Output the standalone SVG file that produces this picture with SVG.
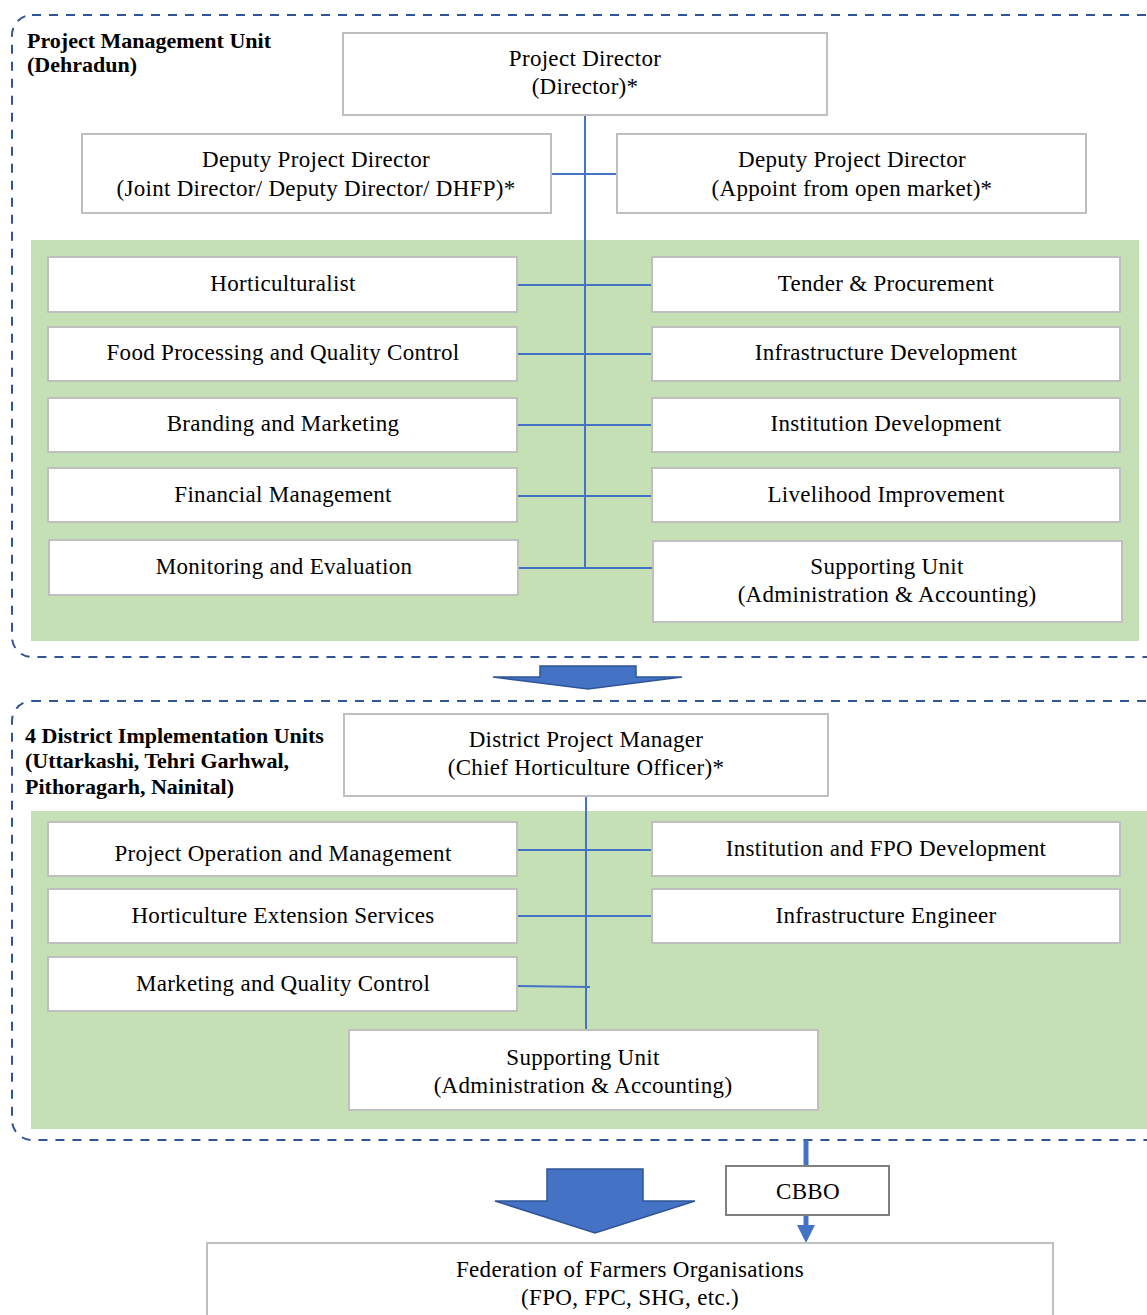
<svg xmlns="http://www.w3.org/2000/svg" width="1147" height="1315" viewBox="0 0 1147 1315">
  <defs>
    <style>
      .frame { fill: none; stroke: #2F5597; stroke-width: 2; stroke-dasharray: 9 8; }
      .band { fill: #C5E0B4; }
      .box { fill: #FFFFFF; stroke: #BFBFBF; stroke-width: 2; }
      .box2 { fill: #FFFFFF; stroke: #7F7F7F; stroke-width: 2; }
      .lbl { font-family: "Liberation Serif", "Times New Roman", serif; font-size: 23px; letter-spacing: 0.3px; fill: #000; text-anchor: middle; }
      .hdr { font-family: "Liberation Serif", "Times New Roman", serif; font-size: 22px; font-weight: bold; fill: #000; }
      .wire { stroke: #4472C4; stroke-width: 2; fill: none; }
      .fat { fill: #4472C4; stroke: #2F5597; stroke-width: 1.5; }
    </style>
  </defs>

  <!-- Section frames and shaded bands -->
  <rect class="frame" x="12" y="15" width="1160" height="642" rx="20"/>
  <rect class="band" x="31" y="240" width="1108" height="401"/>
  <rect class="frame" x="12" y="701" width="1160" height="439" rx="20"/>
  <rect class="band" x="31" y="811" width="1116" height="318"/>

  <text class="hdr" x="27" y="48">Project Management Unit</text>
  <text class="hdr" x="27" y="72">(Dehradun)</text>
  <text class="hdr" x="25" y="743">4 District Implementation Units</text>
  <text class="hdr" x="25" y="768">(Uttarkashi, Tehri Garhwal,</text>
  <text class="hdr" x="25" y="794">Pithoragarh, Nainital)</text>

  <!-- Connectors -->
  <g id="connectors">
    <path class="wire" d="M585 115 V568 M551 174 H617 M517 285 H652 M517 354 H652 M517 425 H652 M517 496 H652 M518 568 H653"/>
    <path class="wire" d="M586 796 V1030 M517 850 H652 M517 916 H652 M517 986 L590 987"/>
    <polygon class="fat" points="493,677 540,677 540,666 636,666 636,677 682,677 588,689"/>
    <polygon class="fat" points="495,1201 547,1201 547,1169 643,1169 643,1201 695,1201 595,1233"/>
    <line x1="806" y1="1140" x2="806" y2="1166" stroke="#4472C4" stroke-width="5"/>
    <line x1="806" y1="1215" x2="806" y2="1228" stroke="#4472C4" stroke-width="5"/>
    <polygon points="797,1225 815,1225 806,1243" fill="#4472C4"/>
  </g>

  <!-- Project Management Unit -->
  <g id="project-director">
    <rect class="box" x="343" y="33" width="484" height="82"/>
    <text class="lbl" x="585" y="66">Project Director</text>
    <text class="lbl" x="585" y="94">(Director)*</text>
  </g>
  <g id="deputy-director-1">
    <rect class="box" x="82" y="134" width="469" height="79"/>
    <text class="lbl" x="316" y="167">Deputy Project Director</text>
    <text class="lbl" x="316" y="196">(Joint Director/ Deputy Director/ DHFP)*</text>
  </g>
  <g id="deputy-director-2">
    <rect class="box" x="617" y="134" width="469" height="79"/>
    <text class="lbl" x="852" y="167">Deputy Project Director</text>
    <text class="lbl" x="852" y="196">(Appoint from open market)*</text>
  </g>

  <g id="horticulturalist">
    <rect class="box" x="48" y="257" width="469" height="55"/>
    <text class="lbl" x="283" y="291">Horticulturalist</text>
  </g>
  <g id="food-processing">
    <rect class="box" x="48" y="327" width="469" height="54"/>
    <text class="lbl" x="283" y="360">Food Processing and Quality Control</text>
  </g>
  <g id="branding">
    <rect class="box" x="48" y="398" width="469" height="54"/>
    <text class="lbl" x="283" y="431">Branding and Marketing</text>
  </g>
  <g id="financial">
    <rect class="box" x="48" y="468" width="469" height="54"/>
    <text class="lbl" x="283" y="502">Financial Management</text>
  </g>
  <g id="monitoring">
    <rect class="box" x="49" y="540" width="469" height="55"/>
    <text class="lbl" x="284" y="574">Monitoring and Evaluation</text>
  </g>

  <g id="tender">
    <rect class="box" x="652" y="257" width="468" height="55"/>
    <text class="lbl" x="886" y="291">Tender &amp; Procurement</text>
  </g>
  <g id="infrastructure">
    <rect class="box" x="652" y="327" width="468" height="54"/>
    <text class="lbl" x="886" y="360">Infrastructure  Development</text>
  </g>
  <g id="institution">
    <rect class="box" x="652" y="398" width="468" height="54"/>
    <text class="lbl" x="886" y="431">Institution  Development</text>
  </g>
  <g id="livelihood">
    <rect class="box" x="652" y="468" width="468" height="54"/>
    <text class="lbl" x="886" y="502">Livelihood Improvement</text>
  </g>
  <g id="supporting-pmu">
    <rect class="box" x="653" y="541" width="469" height="81"/>
    <text class="lbl" x="887" y="574">Supporting Unit</text>
    <text class="lbl" x="887" y="602">(Administration &amp; Accounting)</text>
  </g>

  <!-- District Implementation Units -->
  <g id="district-manager">
    <rect class="box" x="344" y="714" width="484" height="82"/>
    <text class="lbl" x="586" y="747">District Project Manager</text>
    <text class="lbl" x="586" y="775">(Chief Horticulture Officer)*</text>
  </g>
  <g id="operation">
    <rect class="box" x="48" y="822" width="469" height="54"/>
    <text class="lbl" x="283" y="861">Project Operation and Management</text>
  </g>
  <g id="extension">
    <rect class="box" x="48" y="889" width="469" height="54"/>
    <text class="lbl" x="283" y="923">Horticulture  Extension  Services</text>
  </g>
  <g id="marketing-qc">
    <rect class="box" x="48" y="957" width="469" height="54"/>
    <text class="lbl" x="283" y="991">Marketing  and Quality Control</text>
  </g>
  <g id="fpo-development">
    <rect class="box" x="652" y="822" width="468" height="54"/>
    <text class="lbl" x="886" y="856">Institution  and FPO Development</text>
  </g>
  <g id="infra-engineer">
    <rect class="box" x="652" y="889" width="468" height="54"/>
    <text class="lbl" x="886" y="923">Infrastructure  Engineer</text>
  </g>
  <g id="supporting-diu">
    <rect class="box" x="349" y="1030" width="469" height="80"/>
    <text class="lbl" x="583" y="1065">Supporting Unit</text>
    <text class="lbl" x="583" y="1093">(Administration &amp; Accounting)</text>
  </g>

  <!-- Field level -->
  <g id="cbbo">
    <rect class="box2" x="726" y="1166" width="163" height="49"/>
    <text class="lbl" x="808" y="1199">CBBO</text>
  </g>
  <g id="federation">
    <rect class="box" x="207" y="1243" width="846" height="90"/>
    <text class="lbl" x="630" y="1277">Federation of Farmers Organisations</text>
    <text class="lbl" x="630" y="1305">(FPO, FPC, SHG, etc.)</text>
  </g>
</svg>
